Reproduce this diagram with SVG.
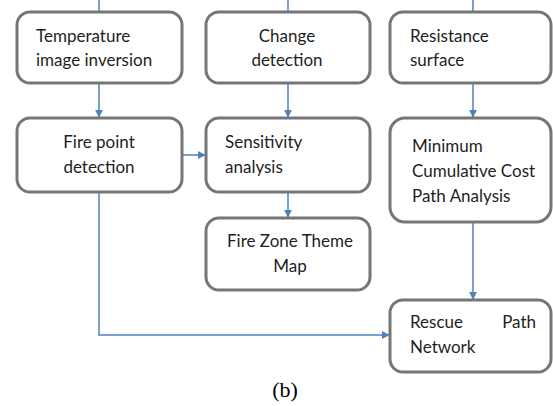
<svg xmlns="http://www.w3.org/2000/svg" width="553" height="406" viewBox="0 0 553 406">
  <style>
    .box { fill: #ffffff; stroke: #767676; stroke-width: 3; }
    .lbl { font-family: Lato, "Liberation Sans", sans-serif; font-size: 17px; fill: #1e1e1e; }
    .mid { text-anchor: middle; }
    .edge { fill: none; stroke: #4f81bd; stroke-width: 1.5; }
    .cap { font-family: "Liberation Serif", serif; font-size: 22px; fill: #000000; }
  </style>
  <defs>
    <marker id="arrow" viewBox="0 0 10 10" refX="9" refY="5" markerWidth="8" markerHeight="8" markerUnits="userSpaceOnUse" orient="auto">
      <path d="M0,0 L10,5 L0,10 z" fill="#4f81bd"/>
    </marker>
  </defs>
  <rect width="553" height="406" fill="#ffffff"/>

  <g id="connectors">
    <!-- incoming stubs from above -->
    <line class="edge" x1="99" y1="0" x2="99" y2="12"/>
    <line class="edge" x1="288" y1="0" x2="288" y2="12"/>
    <line class="edge" x1="473" y1="0" x2="473" y2="12"/>
    <line class="edge" x1="99" y1="84" x2="99" y2="117" marker-end="url(#arrow)"/>
    <line class="edge" x1="288" y1="84" x2="288" y2="117" marker-end="url(#arrow)"/>
    <line class="edge" x1="473" y1="84" x2="473" y2="117" marker-end="url(#arrow)"/>
    <line class="edge" x1="183" y1="155" x2="205" y2="155" marker-end="url(#arrow)"/>
    <line class="edge" x1="288" y1="193" x2="288" y2="217" marker-end="url(#arrow)"/>
    <line class="edge" x1="473" y1="223" x2="473" y2="299" marker-end="url(#arrow)"/>
    <polyline class="edge" points="99,193 99,335 389,335" marker-end="url(#arrow)"/>
  </g>

  <g id="temperature-inversion">
    <rect class="box" x="17" y="12" width="165" height="71" rx="13"/>
    <text class="lbl" x="36" y="42">Temperature</text>
    <text class="lbl" x="36" y="66">image inversion</text>
  </g>

  <g id="change-detection">
    <rect class="box" x="206" y="12" width="164" height="71" rx="13"/>
    <text class="lbl mid" x="287" y="42">Change</text>
    <text class="lbl mid" x="287" y="66">detection</text>
  </g>

  <g id="resistance-surface">
    <rect class="box" x="390" y="12" width="161" height="71" rx="13"/>
    <text class="lbl" x="410" y="42">Resistance</text>
    <text class="lbl" x="410" y="66">surface</text>
  </g>

  <g id="fire-point-detection">
    <rect class="box" x="17" y="118" width="165" height="74" rx="13"/>
    <text class="lbl mid" x="99" y="148">Fire point</text>
    <text class="lbl mid" x="99" y="173">detection</text>
  </g>

  <g id="sensitivity-analysis">
    <rect class="box" x="206" y="118" width="164" height="74" rx="13"/>
    <text class="lbl" x="225" y="148">Sensitivity</text>
    <text class="lbl" x="225" y="173">analysis</text>
  </g>

  <g id="min-cost-path">
    <rect class="box" x="390" y="118" width="161" height="104" rx="15"/>
    <text class="lbl" x="412" y="152">Minimum</text>
    <text class="lbl" x="412" y="177">Cumulative Cost</text>
    <text class="lbl" x="412" y="202">Path Analysis</text>
  </g>

  <g id="fire-zone-map">
    <rect class="box" x="206" y="218" width="164" height="72" rx="13"/>
    <text class="lbl mid" x="290" y="247">Fire Zone Theme</text>
    <text class="lbl mid" x="290" y="272">Map</text>
  </g>

  <g id="rescue-network">
    <rect class="box" x="390" y="300" width="161" height="72" rx="13"/>
    <text class="lbl" x="410" y="328">Rescue</text>
    <text class="lbl" x="536" y="328" text-anchor="end">Path</text>
    <text class="lbl" x="410" y="353">Network</text>
  </g>

  <text class="cap" x="285" y="397" text-anchor="middle">(b)</text>
</svg>
